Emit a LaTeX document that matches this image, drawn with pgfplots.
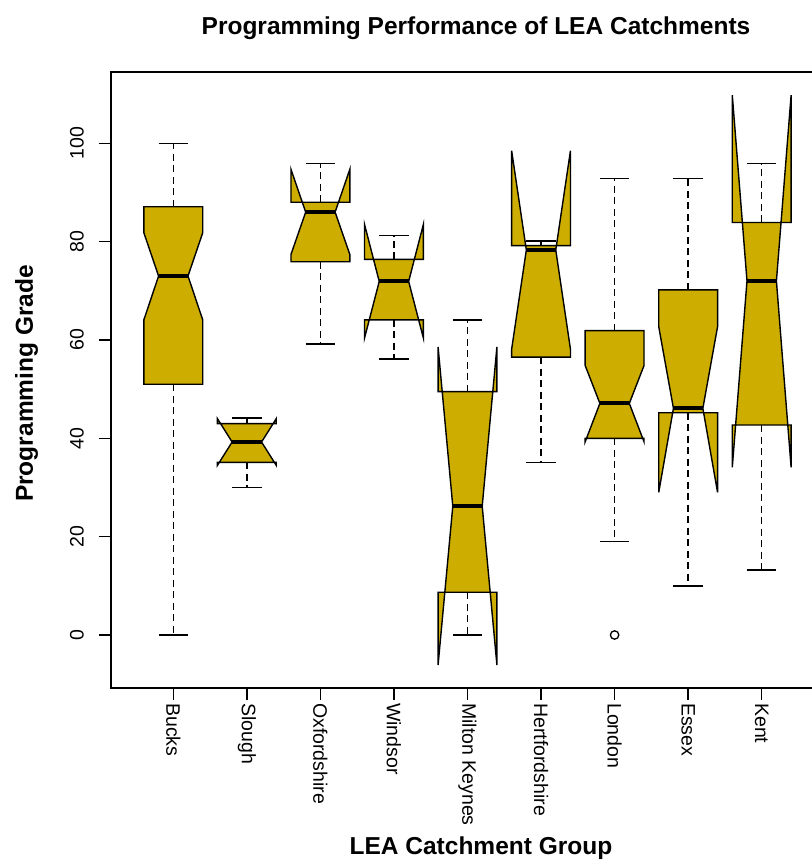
\documentclass[border=0pt]{standalone}
\usepackage{fontspec}
\setmainfont{Liberation Sans}
\usepackage{pgfplots}
\pgfplotsset{compat=1.18}
\definecolor{gold3}{RGB}{205,173,0}

% One notched box: position, lower whisker, Q1, notch low, median, notch high, Q3, upper whisker
\newcommand\notchbox[8]{%
  \pgfmathsetmacro\xl{#1-0.4}%
  \pgfmathsetmacro\xr{#1+0.4}%
  \pgfmathsetmacro\ml{#1-0.2}%
  \pgfmathsetmacro\mr{#1+0.2}%
  \edef\doplots{%
    \noexpand\addplot[whisk] coordinates {(#1,#7) (#1,#8)};
    \noexpand\addplot[whisk] coordinates {(#1,#3) (#1,#2)};
    \noexpand\addplot[staple] coordinates {(\ml,#8) (\mr,#8)};
    \noexpand\addplot[staple] coordinates {(\ml,#2) (\mr,#2)};
    \noexpand\addplot[nbox] coordinates {(\xl,#3) (\xr,#3) (\xr,#4) (\mr,#5) (\xr,#6) (\xr,#7) (\xl,#7) (\xl,#6) (\ml,#5) (\xl,#4)} --cycle;
    \noexpand\addplot[med] coordinates {(\ml,#5) (\mr,#5)};
  }\doplots}

\begin{document}
\begin{tikzpicture}
\begin{axis}[
  scale only axis,
  width=734bp, height=616bp,
  xmin=0.153, xmax=10.1326,
  ymin=-10.78, ymax=114.5,
  axis line style={black, line width=1.4bp},
  tick style={black, line width=1.4bp},
  tick align=outside,
  major tick length=12bp,
  tick pos=left,
  xtick={1,2,3,4,5,6,7,8,9},
  xticklabels={Bucks,Slough,Oxfordshire,Windsor,Milton Keynes,Hertfordshire,London,Essex,Kent},
  ytick={0,20,40,60,80,100},
  /pgf/number format/assume math mode=true,
  xticklabel shift=3bp,
  yticklabel shift=15bp,
  xticklabel style={rotate=-90, anchor=west, inner sep=0pt,
    font=\fontsize{19.5bp}{21bp}\selectfont},
  yticklabel style={rotate=90, anchor=south, inner sep=0pt,
    font=\fontsize{19.5bp}{21bp}\selectfont},
  title={Programming Performance of LEA Catchments},
  title style={font=\bfseries\fontsize{24.5bp}{26bp}\selectfont,
    at={([xshift=-2bp,yshift=32bp]axis description cs:0.5,1)}, anchor=base},
  xlabel={LEA Catchment Group},
  xlabel style={font=\bfseries\fontsize{24.5bp}{26bp}\selectfont,
    at={([xshift=3bp,yshift=-166bp]axis description cs:0.5,0)}, anchor=base},
  ylabel={Programming Grade},
  ylabel style={font=\bfseries\fontsize{24.5bp}{26bp}\selectfont,
    at={([xshift=-78bp,yshift=-3.5bp]axis description cs:0,0.5)}, anchor=base},
  whisk/.style={black, line width=1.4bp, dash pattern=on 7bp off 4.5bp},
  staple/.style={black, line width=1.4bp},
  nbox/.style={fill=gold3, draw=black, line width=1.4bp},
  med/.style={black, line width=4bp, line cap=butt},
]
\notchbox{1}{0}{51.0}{64.1}{73.0}{81.8}{87.1}{100}
\notchbox{2}{30.0}{35.1}{34.5}{39.25}{44.0}{43.0}{44.1}
\notchbox{3}{59.2}{75.9}{77.4}{86.0}{94.7}{88.0}{95.9}
\notchbox{4}{56.1}{64.1}{60.4}{71.9}{83.5}{76.4}{81.2}
\notchbox{5}{0}{8.7}{-6.1}{26.2}{58.6}{49.5}{64.1}
\notchbox{6}{35.1}{56.5}{58.1}{78.3}{98.5}{79.2}{80.1}
\notchbox{7}{19.0}{40.0}{39.3}{47.1}{54.8}{61.9}{92.9}
\notchbox{8}{10.0}{45.2}{29.0}{46.1}{62.7}{70.2}{92.9}
\notchbox{9}{13.2}{42.7}{34.1}{72.0}{109.8}{83.9}{95.9}
% outlier
\addplot[only marks, mark=o, mark size=4.2bp, mark options={line width=1.3bp, black}] coordinates {(7,0)};
\coordinate (bl) at (rel axis cs:0,0);
\coordinate (tl) at (rel axis cs:0,1);
\end{axis}
\pgfresetboundingbox
\path ([xshift=-111bp,yshift=-172bp]bl) rectangle ([xshift=701bp,yshift=72bp]tl);
\end{tikzpicture}
\end{document}
